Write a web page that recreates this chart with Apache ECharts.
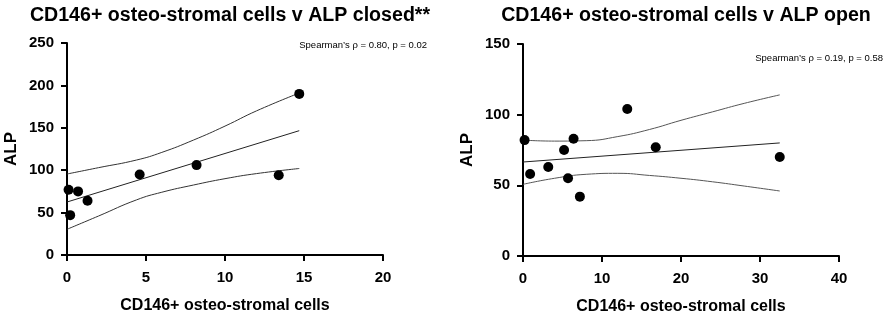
<!DOCTYPE html>
<html>
<head>
<meta charset="utf-8">
<script src="https://cdn.jsdelivr.net/npm/echarts@6/dist/echarts.min.js"></script>
<style>
html, body { margin: 0; padding: 0; background: #fff; }
#chart { width: 886px; height: 312px; }
</style>
</head>
<body>
<div id="chart"></div>
<script>
var FONT = 'Arial, "Liberation Sans", sans-serif';

// closed panel
var closedPoints = [[0.1, 77], [0.2, 47], [0.7, 75], [1.3, 64], [4.6, 95], [8.2, 106], [13.4, 94], [14.7, 190]];
var closedFit = [[0, 62.5], [14.7, 146.6]];
var closedUpper = [[0, 95.5], [2, 103], [4.4, 112], [6, 121], [8, 135.5], [10, 152], [12, 170], [14.7, 191]];
var closedLower = [[0, 30.3], [2, 46], [4.4, 65], [6, 74], [8, 82.5], [10, 90], [12, 96], [14.7, 102]];

// open panel
var openPoints = [[0.2, 82], [0.9, 58], [3.2, 63], [5.2, 75], [5.7, 55], [6.4, 83], [7.2, 42], [13.2, 104], [16.8, 77], [32.5, 70]];
var openFit = [[0, 66.5], [32.5, 80]];
var openUpper = [[0, 82], [4, 81.3], [8, 81.6], [12, 84.5], [16, 89.5], [20, 96], [24, 102], [28, 108], [32.5, 114]];
var openLower = [[0, 50.7], [4, 55], [8, 57.8], [12, 58.5], [16, 57], [20, 55], [24, 52.5], [28, 49.5], [32.5, 46]];

var titles = ['CD146+ osteo-stromal cells v ALP closed**', 'CD146+ osteo-stromal cells v ALP open'];
var notes = ['Spearman\u2019s \u03c1 = 0.80, p = 0.02', 'Spearman\u2019s \u03c1 = 0.19, p = 0.58'];
var xName = 'CD146+ osteo-stromal cells';
var yName = 'ALP';

var myChart = echarts.init(document.getElementById('chart'));

function xAxis(idx, max, interval) {
    return {
        gridIndex: idx, type: 'value', min: 0, max: max, interval: interval,
        name: xName, nameLocation: 'middle', nameGap: 43,
        nameTextStyle: { color: '#000', fontSize: 16, fontWeight: 'bold', fontFamily: FONT },
        axisLine: { lineStyle: { color: '#000', width: 2 } },
        axisTick: { show: true, inside: false, length: 6, lineStyle: { color: '#000', width: 2 } },
        axisLabel: { color: '#000', fontSize: 15, fontWeight: 'bold', fontFamily: FONT, margin: 15 },
        splitLine: { show: false }
    };
}
function yAxis(idx, max, interval) {
    return {
        gridIndex: idx, type: 'value', min: 0, max: max, interval: interval,
        name: yName, nameLocation: 'middle', nameGap: 47, nameRotate: 90,
        nameTextStyle: { color: '#000', fontSize: 17, fontWeight: 'bold', fontFamily: FONT },
        axisLine: { show: true, lineStyle: { color: '#000', width: 2 } },
        axisTick: { show: true, inside: false, length: 6, lineStyle: { color: '#000', width: 2 } },
        axisLabel: { color: '#000', fontSize: 15, fontWeight: 'bold', fontFamily: FONT, margin: 13 },
        splitLine: { show: false }
    };
}
function curve(idx, data, smooth, color) {
    return {
        type: 'line', xAxisIndex: idx, yAxisIndex: idx, data: data,
        smooth: smooth, symbol: 'none', silent: true,
        lineStyle: { color: color, width: 1 }
    };
}
function dots(idx, data) {
    return {
        type: 'scatter', xAxisIndex: idx, yAxisIndex: idx, data: data,
        symbolSize: 10, itemStyle: { color: '#000', opacity: 1 }, z: 5
    };
}

var option = {
    animation: false,
    title: [
        { text: titles[0], left: 225, top: 1, textAlign: 'center',
          textStyle: { fontSize: 19.6, fontWeight: 'bold', color: '#000', fontFamily: FONT } },
        { text: titles[1], left: 681, top: 1, textAlign: 'center',
          textStyle: { fontSize: 19.6, fontWeight: 'bold', color: '#000', fontFamily: FONT } },
        { text: notes[0], right: 459, top: 40, padding: 0,
          textStyle: { fontSize: 9.5, fontWeight: 'normal', color: '#000', fontFamily: FONT } },
        { text: notes[1], right: 3, top: 53, padding: 0,
          textStyle: { fontSize: 9.5, fontWeight: 'normal', color: '#000', fontFamily: FONT } }
    ],
    grid: [
        { left: 67, top: 43, width: 316, height: 212, outerBoundsMode: 'none' },
        { left: 523, top: 44, width: 316, height: 212, outerBoundsMode: 'none' }
    ],
    xAxis: [xAxis(0, 20, 5), xAxis(1, 40, 10)],
    yAxis: [yAxis(0, 250, 50), yAxis(1, 150, 50)],
    series: [
        curve(0, closedUpper, true, '#333'),
        curve(0, closedFit, false, '#222'),
        curve(0, closedLower, true, '#333'),
        dots(0, closedPoints),
        curve(1, openUpper, true, '#555'),
        curve(1, openFit, false, '#222'),
        curve(1, openLower, true, '#555'),
        dots(1, openPoints)
    ]
};

myChart.setOption(option);
</script>
</body>
</html>
